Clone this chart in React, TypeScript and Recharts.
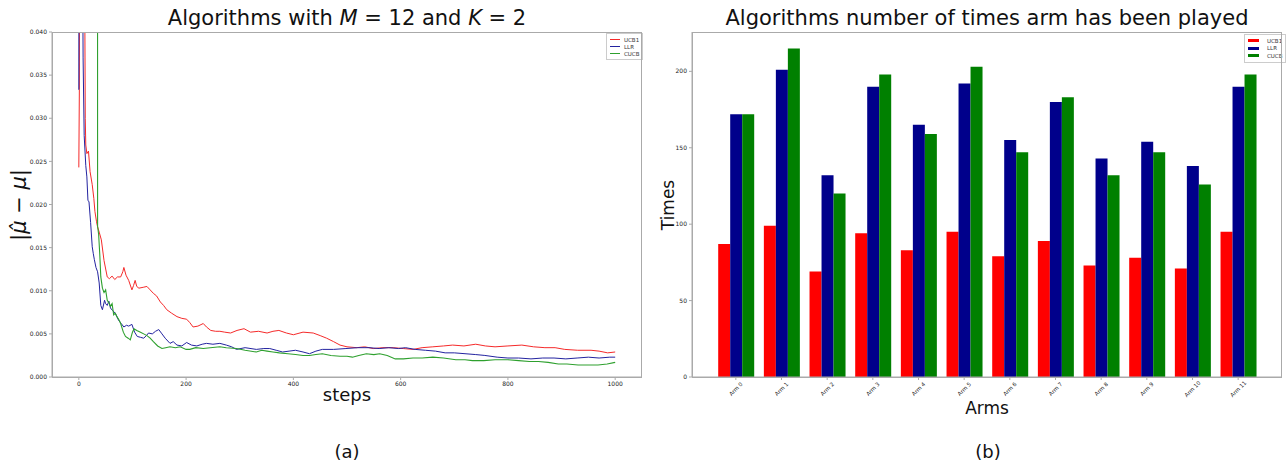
import React from "react"
import { LineChart, Line, BarChart, Bar, XAxis, YAxis, Legend } from "recharts"

// left panel: |mu_hat - mu| over steps
const ucbSteps = [0, 1, 2, 10, 12, 13, 15, 18, 21, 25, 28, 30, 33, 35, 38, 42, 47, 53, 57, 62, 67, 72, 78, 82, 84, 88, 93, 99, 102, 105, 108, 112, 120, 127, 133, 139, 145, 152, 158, 164, 173, 183, 192, 201, 207, 213, 222, 232, 238, 246, 255, 263, 272, 283, 295, 308, 320, 335, 351, 362, 373, 387, 400, 418, 437, 450, 462, 475, 487, 500, 518, 533, 549, 567, 586, 605, 623, 640, 660, 680, 697, 718, 740, 758, 776, 800, 826, 848, 869, 888, 906, 930, 955, 970, 986, 1000]
const ucbValues = [0.0243, 0.0333, 0.08, 0.06, 0.03, 0.0269, 0.0259, 0.0262, 0.0238, 0.0223, 0.0207, 0.0192, 0.018, 0.0174, 0.0168, 0.0159, 0.0135, 0.0116, 0.0114, 0.0117, 0.0113, 0.0116, 0.0116, 0.0122, 0.0127, 0.0118, 0.0112, 0.0101, 0.0106, 0.0112, 0.0105, 0.0103, 0.0104, 0.0105, 0.0101, 0.0097, 0.0094, 0.0087, 0.0083, 0.0078, 0.0074, 0.007, 0.0068, 0.0067, 0.0063, 0.0058, 0.0059, 0.0062, 0.0058, 0.0054, 0.0053, 0.0053, 0.0052, 0.0051, 0.0054, 0.0056, 0.0052, 0.0053, 0.0051, 0.0053, 0.0054, 0.0051, 0.0049, 0.0052, 0.0051, 0.0048, 0.0045, 0.0041, 0.0037, 0.0035, 0.0034, 0.0035, 0.0033, 0.0034, 0.0034, 0.0033, 0.0032, 0.0034, 0.0035, 0.0036, 0.0037, 0.0036, 0.0038, 0.0036, 0.0035, 0.0036, 0.0037, 0.0035, 0.0034, 0.0034, 0.0032, 0.0031, 0.0031, 0.003, 0.0028, 0.0029]

const llrSteps = [0, 1, 6, 8, 10, 13, 15, 17, 19, 22, 25, 27, 29, 32, 35, 38, 41, 44, 48, 50, 53, 56, 59, 63, 68, 74, 79, 84, 89, 93, 99, 104, 109, 115, 121, 126, 130, 137, 143, 149, 155, 161, 170, 176, 183, 192, 201, 210, 220, 230, 238, 250, 263, 275, 285, 294, 310, 331, 345, 356, 368, 380, 392, 404, 418, 430, 442, 454, 475, 498, 520, 541, 560, 578, 596, 609, 627, 646, 665, 683, 700, 720, 740, 757, 780, 800, 820, 843, 865, 886, 908, 929, 950, 970, 990, 1000]
const llrValues = [0.0333, 0.09, 0.06, 0.037, 0.028, 0.0245, 0.0232, 0.0205, 0.0203, 0.0179, 0.0151, 0.0143, 0.0136, 0.0127, 0.0122, 0.0109, 0.0083, 0.0078, 0.0089, 0.0085, 0.0083, 0.0088, 0.008, 0.0077, 0.0074, 0.0066, 0.0062, 0.0058, 0.006, 0.0059, 0.0061, 0.0052, 0.0047, 0.0046, 0.0045, 0.0048, 0.0051, 0.005, 0.0053, 0.0055, 0.005, 0.0045, 0.0039, 0.0041, 0.0037, 0.0036, 0.004, 0.0037, 0.0036, 0.0038, 0.0039, 0.0038, 0.0039, 0.0037, 0.0035, 0.0032, 0.0034, 0.0032, 0.0033, 0.0033, 0.0031, 0.0029, 0.003, 0.0031, 0.0029, 0.0027, 0.003, 0.0032, 0.0032, 0.0033, 0.0034, 0.0034, 0.0033, 0.0034, 0.0033, 0.0034, 0.0032, 0.0031, 0.003, 0.0028, 0.0028, 0.0027, 0.0026, 0.0025, 0.0023, 0.0022, 0.0022, 0.0021, 0.0022, 0.0022, 0.0021, 0.0022, 0.0023, 0.0022, 0.0023, 0.0023]

const cucbSteps = [0, 34.9, 35, 37, 39, 41, 44, 47, 50, 53, 56, 59, 62, 65, 68, 71, 75, 78, 83, 87, 92, 96, 100, 103, 108, 115, 121, 127, 133, 139, 147, 155, 162, 170, 180, 189, 200, 207, 218, 232, 245, 263, 275, 294, 310, 331, 341, 351, 362, 374, 390, 404, 418, 430, 442, 454, 470, 487, 500, 510, 522, 536, 550, 561, 575, 590, 605, 623, 640, 660, 680, 703, 720, 734, 755, 776, 800, 820, 840, 857, 875, 894, 910, 931, 950, 968, 985, 1000]
const cucbValues = [0.09, 0.06, 0.0175, 0.0165, 0.0143, 0.0116, 0.0103, 0.0098, 0.0101, 0.0089, 0.0086, 0.0082, 0.0085, 0.0072, 0.0074, 0.007, 0.0066, 0.0062, 0.0052, 0.0047, 0.0045, 0.0043, 0.0052, 0.0056, 0.0054, 0.0052, 0.005, 0.0048, 0.0045, 0.0041, 0.0036, 0.0033, 0.0034, 0.0035, 0.0034, 0.0035, 0.0032, 0.0032, 0.0034, 0.0033, 0.0034, 0.0035, 0.0034, 0.0033, 0.0031, 0.0029, 0.0031, 0.003, 0.0029, 0.0028, 0.0027, 0.0026, 0.0025, 0.0025, 0.0026, 0.0027, 0.0025, 0.0024, 0.0024, 0.0023, 0.0025, 0.0027, 0.0026, 0.0027, 0.0025, 0.0021, 0.0021, 0.0022, 0.0022, 0.0023, 0.0022, 0.002, 0.002, 0.0019, 0.0019, 0.002, 0.002, 0.0019, 0.0018, 0.0018, 0.0017, 0.0015, 0.0015, 0.0014, 0.0014, 0.0014, 0.0015, 0.0017]

const stepTicks = [0, 200, 400, 600, 800, 1000]
const errTicks = [0, 0.005, 0.01, 0.015, 0.02, 0.025, 0.03, 0.035, 0.04]

// right panel: times each arm was played
const arms = ["Arm 0", "Arm 1", "Arm 2", "Arm 3", "Arm 4", "Arm 5", "Arm 6", "Arm 7", "Arm 8", "Arm 9", "Arm 10", "Arm 11"]
const ucbPlays = [87, 99, 69, 94, 83, 95, 79, 89, 73, 78, 71, 95]
const llrPlays = [172, 201, 132, 190, 165, 192, 155, 180, 143, 154, 138, 190]
const cucbPlays = [172, 215, 120, 198, 159, 203, 147, 183, 132, 147, 126, 198]
const timesTicks = [0, 50, 100, 150, 200]

const series = ["UCB1", "LLR", "CUCB"]
const lineColors = ["#f52a2a", "#2323a0", "#2ea02e"]
const barColors = ["#ff0000", "#00008b", "#008000"]

const toPoints = (steps: number[], values: number[]) => steps.map((s, i) => ({ step: s, err: values[i] }))
const ucbData = toPoints(ucbSteps, ucbValues)
const llrData = toPoints(llrSteps, llrValues)
const cucbData = toPoints(cucbSteps, cucbValues)

const barData = arms.map((a, i) => ({ arm: a, UCB1: ucbPlays[i], LLR: llrPlays[i], CUCB: cucbPlays[i] }))

const FONT = "'DejaVu Sans', sans-serif"
const tickStyle = { fontSize: 6, fill: "#222", fontFamily: FONT }
const spine = "#aaa"

const label = (text: React.ReactNode, x: number, y: number, size: number, rotate = false): React.ReactNode => (
  <div
    style={{
      position: "absolute",
      left: x,
      top: y,
      transform: `translate(-50%, -50%)${rotate ? " rotate(-90deg)" : ""}`,
      fontSize: size,
      fontFamily: FONT,
      color: "#111",
      whiteSpace: "nowrap",
      lineHeight: 1,
    }}
  >
    {text}
  </div>
)

const LineLegend = () => (
  <div style={{ border: "1px solid #ccc", background: "#fff", padding: "2px 3px", fontFamily: FONT, fontSize: 5.5, color: "#333" }}>
    {series.map((s, i) => (
      <div key={s} style={{ display: "flex", alignItems: "center", height: 7 }}>
        <span style={{ display: "inline-block", width: 10, height: 1, background: lineColors[i], marginRight: 4 }} />
        {s}
      </div>
    ))}
  </div>
)

const BarLegend = () => (
  <div style={{ border: "1px solid #ccc", background: "#fff", padding: "2px 3px", fontFamily: FONT, fontSize: 5.5, color: "#333" }}>
    {series.map((s, i) => (
      <div key={s} style={{ display: "flex", alignItems: "center", height: 7.5 }}>
        <span style={{ display: "inline-block", width: 11, height: 3, background: barColors[i], marginRight: 8 }} />
        {s}
      </div>
    ))}
  </div>
)

// rotated category labels, centred under each tick like matplotlib's rotation=45
const renderArmTick = (props: any) => {
  const { x, y, payload } = props
  const cy = y + 8
  return (
    <text
      key={payload.value}
      x={x}
      y={cy}
      transform={`rotate(-45 ${x} ${cy})`}
      textAnchor="middle"
      dominantBaseline="central"
      fontSize={5.5}
      fontFamily={FONT}
      fill="#222"
    >
      {payload.value}
    </text>
  )
}

export default function App() {
  return (
    <div style={{ position: "absolute", left: 0, top: 0, width: 1288, height: 463, background: "#fff" }}>
      <div style={{ position: "absolute", left: 0, top: 0 }}>
        <LineChart width={650} height={420} margin={{ top: 32, right: 8, left: 0, bottom: 0 }}>
          <XAxis
            type="number"
            dataKey="step"
            domain={[-50, 1050]}
            ticks={stepTicks}
            allowDuplicatedCategory={false}
            height={43}
            tick={tickStyle}
            tickSize={3}
            tickMargin={2}
            stroke={spine}
          />
          <YAxis
            type="number"
            domain={[0, 0.04]}
            ticks={errTicks}
            allowDataOverflow
            width={52}
            tick={tickStyle}
            tickSize={3}
            tickMargin={2}
            tickFormatter={(v: number) => v.toFixed(3)}
            stroke={spine}
          />
          <Legend
            content={<LineLegend />}
            layout="vertical"
            align="center"
            verticalAlign="middle"
            wrapperStyle={{ top: 33, left: 606, width: "auto", height: "auto" }}
          />
          <Line data={ucbData} dataKey="err" name="UCB1" stroke={lineColors[0]} strokeWidth={1} dot={false} isAnimationActive={false} />
          <Line data={llrData} dataKey="err" name="LLR" stroke={lineColors[1]} strokeWidth={1} dot={false} isAnimationActive={false} />
          <Line data={cucbData} dataKey="err" name="CUCB" stroke={lineColors[2]} strokeWidth={1.1} dot={false} isAnimationActive={false} />
        </LineChart>
      </div>
      <div style={{ position: "absolute", left: 52, top: 32, width: 590, height: 346, border: `1px solid ${spine}`, boxSizing: "border-box", pointerEvents: "none" }} />

      <div style={{ position: "absolute", left: 650, top: 0 }}>
        <BarChart width={638} height={420} data={barData} margin={{ top: 32, right: 6, left: 0, bottom: 0 }} barCategoryGap={5.2} barGap={0}>
          <XAxis
            dataKey="arm"
            height={43}
            padding={{ left: 21, right: 21 }}
            tick={renderArmTick}
            tickSize={3}
            tickMargin={1}
            interval={0}
            stroke={spine}
          />
          <YAxis
            type="number"
            domain={[0, 225.75]}
            ticks={timesTicks}
            width={42}
            tick={tickStyle}
            tickSize={3}
            tickMargin={2}
            stroke={spine}
          />
          <Legend
            content={<BarLegend />}
            layout="vertical"
            align="center"
            verticalAlign="middle"
            wrapperStyle={{ top: 34, left: 594, width: "auto", height: "auto" }}
          />
          <Bar dataKey="UCB1" fill={barColors[0]} isAnimationActive={false} />
          <Bar dataKey="LLR" fill={barColors[1]} isAnimationActive={false} />
          <Bar dataKey="CUCB" fill={barColors[2]} isAnimationActive={false} />
        </BarChart>
      </div>
      <div style={{ position: "absolute", left: 692, top: 32, width: 590, height: 346, border: `1px solid ${spine}`, boxSizing: "border-box", pointerEvents: "none" }} />

      {label(<span>Algorithms with <i>M</i> = 12 and <i>K</i> = 2</span>, 347, 18, 21)}
      {label(<span>|<i>μ̂</i> − <i>μ</i>|</span>, 19, 205, 21, true)}
      {label("steps", 347, 395, 18)}
      {label("(a)", 347, 452, 18)}

      {label("Algorithms number of times arm has been played", 987, 18, 21)}
      {label("Times", 668, 205, 17, true)}
      {label("Arms", 987, 408, 17)}
      {label("(b)", 988, 452, 18)}
    </div>
  )
}
